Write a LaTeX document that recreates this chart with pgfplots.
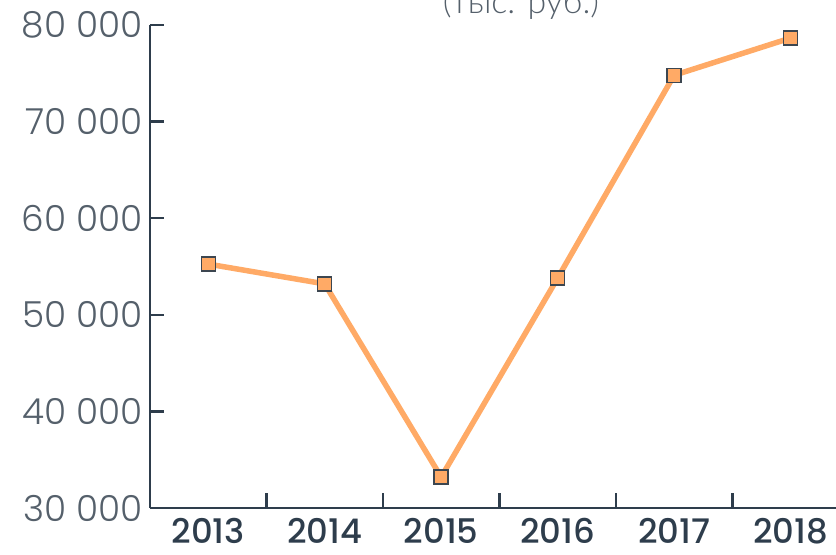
\documentclass[border=0pt]{standalone}
\usepackage{pgfplots}
\pgfplotsset{compat=1.18}
\usepackage{fontspec}
\setmainfont{Poppins}
\newfontfamily\lightfont{Poppins Light}
\newfontfamily\medfont{Poppins Medium}
\newfontfamily\cyrfont{Lato Light}
\definecolor{axiscol}{HTML}{2E3D4C}
\definecolor{ylabcol}{HTML}{55606B}
\definecolor{linecol}{HTML}{FFAA66}
\definecolor{markcol}{HTML}{3C4650}
\begin{document}
\begin{tikzpicture}
\begin{axis}[
  at={(150bp,47bp)}, anchor=south west,
  scale only axis,
  width=686bp, height=483bp,
  xmin=-0.5, xmax=5.39,
  ymin=30000, ymax=80000,
  scaled y ticks=false,
  axis x line*=bottom, axis y line*=left,
  axis line style={axiscol, line width=2.8bp, -},
  xtick={0,1,2,3,4,5},
  xticklabels={2013,2014,2015,2016,2017,2018},
  major x tick style={draw=none},
  minor xtick={0.5,1.5,2.5,3.5,4.5},
  minor x tick style={axiscol, line width=2.5bp},
  minor tick length=15bp,
  ytick={30000,40000,50000,60000,70000,80000},
  yticklabels={30 000,40 000,50 000,60 000,70 000,80 000},
  major y tick style={axiscol, line width=2.5bp},
  major tick length=14bp,
  tick align=inside,
  x tick label style={font=\medfont\fontsize{34}{38}\selectfont, text=axiscol, yshift=-7bp},
  y tick label style={font=\lightfont\fontsize{36}{40}\selectfont, text=ylabcol, xshift=-4bp},
  clip=false,
]
\addplot[color=linecol, line width=5.5bp, mark=square*, mark size=7bp,
  mark options={fill=linecol, draw=markcol, line width=1.4bp}]
  coordinates {(0,55250) (1,53200) (2,33200) (3,53800) (4,74800) (5,78650)};
\end{axis}
\node[anchor=base, text=ylabcol, font=\cyrfont\fontsize{34}{40}\selectfont] at (521bp,541bp) {(тыс. руб.)};
\pgfresetboundingbox
\useasboundingbox (0,0) rectangle (836bp,555bp);
\end{tikzpicture}
\end{document}
